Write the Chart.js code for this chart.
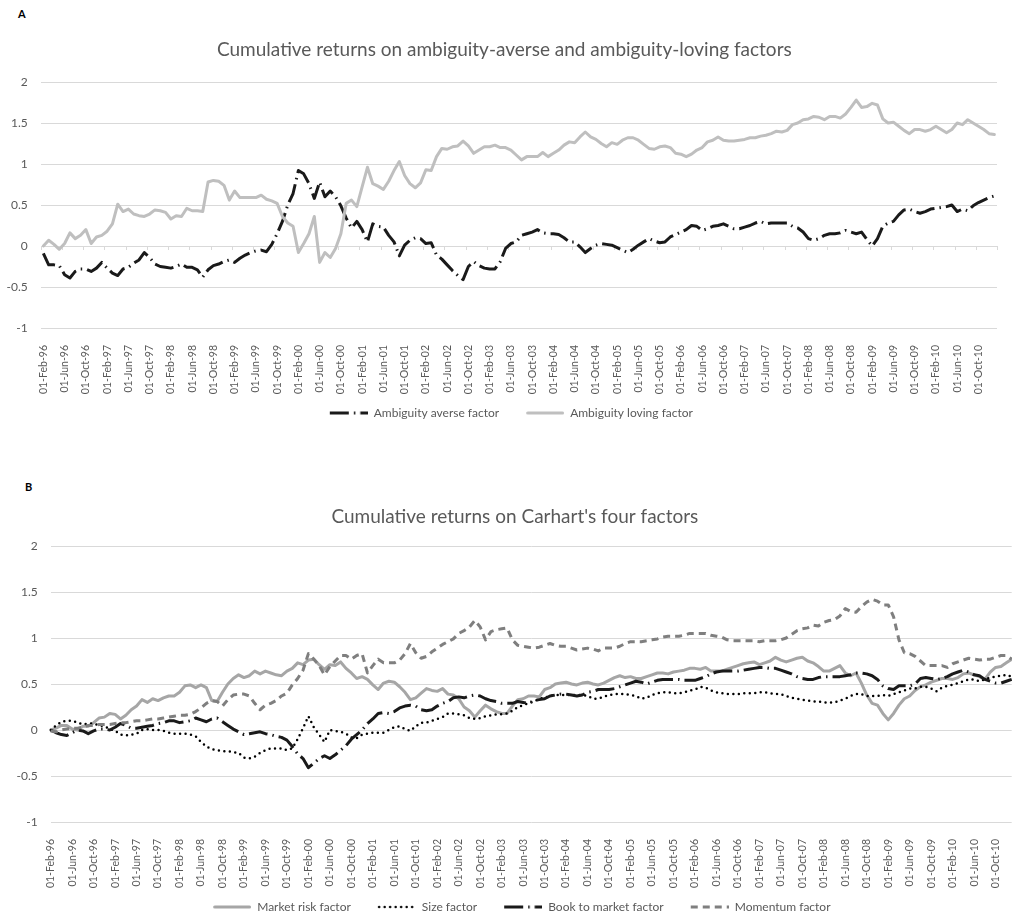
<!DOCTYPE html>
<html>
<head>
<meta charset="utf-8">
<script src="https://cdn.jsdelivr.net/npm/chart.js@4.4.1/dist/chart.umd.min.js"></script>
<style>
  html, body { margin: 0; padding: 0; background: #ffffff; overflow: hidden; width: 1012px; height: 916px; }
  .panel { position: absolute; left: 0; }
  .tag { position: absolute; font-family: Lato, "Liberation Sans", sans-serif; font-weight: bold; font-size: 11px; color: #000; }
</style>
</head>
<body>
<div class="tag" style="left:18px; top:7px;">A</div>
<div class="panel" style="top:0px; width:1016px; height:429px;"><canvas id="chartA" width="1016" height="429"></canvas></div>
<div class="tag" style="left:25px; top:480px;">B</div>
<div class="panel" style="top:460px; width:1035px; height:463px;"><canvas id="chartB" width="1035" height="463"></canvas></div>
<script>
// ---------- categories (monthly, Feb-96 .. Jan-11) ----------
const monthNames = ['Jan','Feb','Mar','Apr','May','Jun','Jul','Aug','Sep','Oct','Nov','Dec'];
const categories = [];
for (let k = 0; k < 180; k++) {
  const m = (1 + k) % 12;
  const yy = (96 + Math.floor((1 + k) / 12)) % 100;
  categories.push('01-' + monthNames[m] + '-' + String(yy).padStart(2, '0'));
}
const yTickValues = [-1, -0.5, 0, 0.5, 1, 1.5, 2];

// ---------- Panel A series ----------
const ambiguityAverse = [
  -0.09,-0.23,-0.23,-0.24,-0.35,-0.39,-0.31,-0.28,-0.28,-0.31,
  -0.27,-0.20,-0.27,-0.33,-0.36,-0.28,-0.26,-0.21,-0.17,-0.08,
  -0.14,-0.22,-0.25,-0.26,-0.27,-0.25,-0.22,-0.26,-0.26,-0.29,
  -0.38,-0.29,-0.24,-0.22,-0.19,-0.17,-0.20,-0.15,-0.11,-0.08,
  -0.06,-0.05,-0.07,0.02,0.15,0.30,0.50,0.64,0.92,0.88,
  0.76,0.58,0.78,0.60,0.67,0.60,0.49,0.34,0.22,0.30,
  0.20,0.05,0.27,0.24,0.23,0.13,0.05,-0.12,0.01,0.07,
  0.10,0.09,0.03,0.04,-0.11,-0.16,-0.23,-0.30,-0.36,-0.41,
  -0.25,-0.19,-0.24,-0.27,-0.28,-0.28,-0.19,-0.03,0.03,0.05,
  0.13,0.15,0.17,0.20,0.16,0.15,0.15,0.14,0.10,0.05,
  0.05,-0.01,-0.08,-0.03,0.01,0.03,0.02,0.01,-0.02,-0.05,
  -0.08,-0.04,0.01,0.05,0.09,0.06,0.04,0.05,0.11,0.14,
  0.17,0.20,0.25,0.24,0.19,0.21,0.24,0.25,0.27,0.24,
  0.21,0.21,0.23,0.25,0.28,0.30,0.27,0.28,0.28,0.28,
  0.28,0.24,0.22,0.17,0.09,0.07,0.09,0.13,0.15,0.15,
  0.16,0.19,0.17,0.15,0.17,0.08,0.00,0.09,0.24,0.28,
  0.30,0.38,0.44,0.45,0.42,0.40,0.42,0.45,0.46,0.47,
  0.48,0.50,0.42,0.45,0.43,0.49,0.53,0.56,0.59,0.61
];
const ambiguityLoving = [
  0.00,0.07,0.02,-0.04,0.03,0.16,0.09,0.13,0.20,0.03,
  0.11,0.13,0.18,0.27,0.51,0.42,0.45,0.39,0.37,0.36,
  0.39,0.44,0.43,0.41,0.33,0.37,0.36,0.46,0.43,0.43,
  0.42,0.78,0.80,0.79,0.74,0.56,0.67,0.59,0.59,0.59,
  0.59,0.62,0.57,0.55,0.52,0.36,0.28,0.24,-0.08,0.03,
  0.15,0.36,-0.20,-0.08,-0.14,-0.03,0.15,0.52,0.56,0.48,
  0.72,0.96,0.76,0.73,0.69,0.79,0.92,1.03,0.86,0.76,
  0.71,0.77,0.93,0.92,1.09,1.19,1.18,1.21,1.22,1.28,
  1.22,1.13,1.17,1.21,1.21,1.23,1.20,1.20,1.17,1.11,
  1.05,1.09,1.09,1.09,1.14,1.09,1.13,1.17,1.23,1.27,
  1.26,1.33,1.39,1.33,1.30,1.25,1.21,1.26,1.24,1.29,
  1.32,1.32,1.29,1.24,1.19,1.18,1.21,1.22,1.20,1.13,
  1.12,1.09,1.12,1.17,1.20,1.27,1.29,1.33,1.29,1.28,
  1.28,1.29,1.30,1.32,1.32,1.34,1.35,1.37,1.40,1.39,
  1.41,1.48,1.50,1.54,1.55,1.58,1.57,1.54,1.58,1.58,
  1.56,1.61,1.69,1.78,1.69,1.70,1.74,1.72,1.55,1.50,
  1.51,1.46,1.41,1.37,1.42,1.42,1.40,1.42,1.46,1.42,
  1.38,1.42,1.50,1.48,1.54,1.50,1.46,1.42,1.37,1.36
];

// ---------- Panel B series ----------
const marketRisk = [
  0.00,0.02,0.05,0.05,0.01,0.00,0.04,0.04,0.08,0.13,
  0.14,0.18,0.17,0.12,0.16,0.22,0.26,0.33,0.30,0.34,
  0.32,0.35,0.37,0.37,0.41,0.48,0.49,0.46,0.49,0.46,
  0.32,0.31,0.41,0.50,0.56,0.60,0.57,0.59,0.64,0.61,
  0.64,0.62,0.60,0.59,0.64,0.67,0.73,0.71,0.76,0.77,
  0.71,0.66,0.71,0.70,0.74,0.67,0.62,0.56,0.58,0.55,
  0.49,0.44,0.51,0.53,0.52,0.47,0.41,0.33,0.35,0.40,
  0.45,0.43,0.42,0.45,0.39,0.38,0.34,0.25,0.21,0.14,
  0.21,0.27,0.23,0.20,0.18,0.18,0.26,0.33,0.34,0.37,
  0.37,0.36,0.44,0.46,0.50,0.51,0.52,0.50,0.49,0.51,
  0.52,0.50,0.49,0.51,0.54,0.57,0.59,0.57,0.58,0.56,
  0.56,0.58,0.60,0.62,0.62,0.61,0.63,0.64,0.65,0.67,
  0.67,0.66,0.68,0.64,0.64,0.64,0.66,0.68,0.70,0.72,
  0.73,0.74,0.71,0.73,0.75,0.79,0.76,0.74,0.76,0.78,
  0.79,0.75,0.73,0.69,0.64,0.64,0.67,0.70,0.62,0.59,
  0.62,0.51,0.38,0.29,0.27,0.18,0.11,0.18,0.27,0.34,
  0.37,0.43,0.47,0.49,0.52,0.54,0.56,0.56,0.55,0.57,
  0.61,0.62,0.60,0.58,0.55,0.63,0.68,0.69,0.73,0.77
];
const sizeFactor = [
  0.00,0.05,0.09,0.10,0.10,0.08,0.06,0.07,0.07,0.05,
  0.04,0.01,-0.01,-0.05,-0.06,-0.05,-0.04,0.00,0.01,0.00,
  0.00,-0.01,-0.03,-0.04,-0.04,-0.04,-0.05,-0.07,-0.13,-0.18,
  -0.21,-0.22,-0.23,-0.23,-0.24,-0.25,-0.30,-0.31,-0.29,-0.25,
  -0.22,-0.20,-0.20,-0.20,-0.22,-0.20,-0.10,0.02,0.15,0.03,
  -0.05,-0.13,0.00,-0.01,-0.02,-0.04,-0.08,-0.09,-0.05,-0.04,
  -0.03,-0.03,-0.03,0.00,0.03,0.04,0.01,-0.01,0.04,0.08,
  0.08,0.10,0.12,0.14,0.18,0.18,0.17,0.16,0.13,0.12,
  0.13,0.15,0.16,0.17,0.17,0.18,0.21,0.25,0.27,0.29,
  0.31,0.34,0.35,0.37,0.38,0.38,0.38,0.38,0.38,0.38,
  0.37,0.34,0.34,0.36,0.38,0.39,0.39,0.39,0.38,0.37,
  0.34,0.35,0.38,0.40,0.41,0.41,0.40,0.40,0.41,0.43,
  0.44,0.47,0.46,0.43,0.41,0.40,0.39,0.39,0.39,0.40,
  0.40,0.40,0.41,0.41,0.40,0.39,0.39,0.37,0.35,0.34,
  0.33,0.32,0.31,0.31,0.30,0.30,0.30,0.32,0.34,0.37,
  0.39,0.39,0.37,0.37,0.37,0.38,0.37,0.39,0.41,0.43,
  0.45,0.45,0.47,0.47,0.45,0.42,0.46,0.48,0.49,0.51,
  0.53,0.55,0.55,0.53,0.55,0.57,0.58,0.59,0.60,0.58
];
const bookToMarket = [
  0.00,-0.03,-0.05,-0.06,-0.03,0.00,-0.01,-0.04,-0.01,0.01,
  0.01,0.00,0.03,0.07,0.05,0.02,0.02,0.03,0.04,0.05,
  0.07,0.08,0.10,0.10,0.08,0.09,0.10,0.13,0.11,0.09,
  0.12,0.13,0.09,0.05,0.01,-0.02,-0.05,-0.04,-0.03,-0.02,
  -0.04,-0.05,-0.07,-0.08,-0.11,-0.18,-0.26,-0.31,-0.41,-0.36,
  -0.31,-0.28,-0.31,-0.27,-0.22,-0.17,-0.10,-0.05,0.00,0.07,
  0.12,0.18,0.19,0.18,0.20,0.24,0.26,0.27,0.26,0.22,
  0.21,0.22,0.26,0.29,0.31,0.35,0.36,0.35,0.37,0.38,
  0.37,0.34,0.32,0.31,0.29,0.29,0.29,0.31,0.30,0.29,
  0.32,0.33,0.34,0.37,0.38,0.39,0.39,0.38,0.37,0.38,
  0.41,0.42,0.44,0.44,0.44,0.45,0.47,0.49,0.51,0.53,
  0.52,0.50,0.52,0.54,0.55,0.55,0.55,0.55,0.54,0.54,
  0.54,0.56,0.58,0.61,0.63,0.64,0.64,0.64,0.64,0.65,
  0.66,0.67,0.68,0.68,0.67,0.67,0.65,0.63,0.61,0.58,
  0.56,0.55,0.55,0.57,0.58,0.58,0.58,0.58,0.59,0.60,
  0.62,0.62,0.61,0.59,0.55,0.48,0.45,0.44,0.48,0.48,
  0.48,0.50,0.56,0.57,0.56,0.55,0.56,0.58,0.61,0.63,
  0.65,0.63,0.60,0.59,0.55,0.53,0.51,0.51,0.53,0.55
];
const momentumFactor = [
  -0.01,-0.02,0.00,0.01,0.02,0.02,0.03,0.05,0.05,0.06,
  0.06,0.06,0.07,0.08,0.08,0.09,0.10,0.10,0.11,0.12,
  0.12,0.13,0.14,0.15,0.16,0.16,0.17,0.20,0.24,0.29,
  0.32,0.31,0.26,0.33,0.38,0.39,0.39,0.37,0.29,0.22,
  0.27,0.29,0.32,0.37,0.40,0.49,0.56,0.65,0.83,0.77,
  0.70,0.60,0.69,0.75,0.81,0.81,0.77,0.81,0.83,0.62,
  0.70,0.77,0.73,0.73,0.73,0.76,0.83,0.94,0.84,0.78,
  0.80,0.85,0.89,0.93,0.96,0.99,1.05,1.08,1.12,1.19,
  1.12,0.98,1.07,1.09,1.10,1.11,0.98,0.92,0.91,0.90,
  0.89,0.90,0.92,0.94,0.92,0.91,0.91,0.89,0.87,0.88,
  0.89,0.88,0.86,0.89,0.89,0.89,0.91,0.94,0.96,0.96,
  0.96,0.97,0.98,0.99,1.01,1.02,1.02,1.02,1.03,1.05,
  1.05,1.05,1.05,1.03,1.02,1.01,0.98,0.97,0.97,0.97,
  0.97,0.97,0.96,0.97,0.97,0.97,0.98,1.00,1.04,1.08,
  1.10,1.11,1.14,1.13,1.17,1.19,1.20,1.24,1.32,1.29,
  1.28,1.34,1.39,1.42,1.40,1.36,1.36,1.23,0.98,0.84,
  0.83,0.80,0.75,0.70,0.70,0.70,0.70,0.68,0.72,0.74,
  0.76,0.78,0.77,0.76,0.77,0.77,0.79,0.81,0.81,0.77
];

// ---------- shared styling ----------
const FONT = 'Lato, "Liberation Sans", sans-serif';
const TEXT = '#595959';
const GRID = '#d9d9d9';
const SAMPLE_W = 52, SAMPLE_LEAD = 14;

// legend sample (line drawn with the series' own dash pattern)
function sample(color, width, dash, cap) {
  const c = document.createElement('canvas');
  c.width = SAMPLE_W; c.height = 8;
  const g = c.getContext('2d');
  g.strokeStyle = color; g.lineWidth = width; g.lineCap = cap;
  g.setLineDash(dash);
  g.beginPath();
  const start = SAMPLE_LEAD + (cap === 'round' ? width / 2 : 0);
  g.moveTo(start, 4); g.lineTo(SAMPLE_W - (cap === 'round' ? width / 2 : 0), 4);
  g.stroke();
  return c;
}

function xAxis(offset) {
  return {
    offset: offset,
    grid: { display: false },
    border: { display: false },
    ticks: {
      autoSkip: false, minRotation: 90, maxRotation: 90, padding: 9,
      color: TEXT, font: { family: FONT, size: 10.5 },
      callback: function (v, i) { return i % 4 === 0 ? this.getLabelForValue(v) : ''; }
    },
    afterFit: function (s) { s.height = 66; }
  };
}
function yAxis(width, pad) {
  return {
    min: -1, max: 2,
    afterBuildTicks: function (s) { s.ticks = yTickValues.map(v => ({ value: v })); },
    ticks: { padding: pad, color: TEXT, font: { family: FONT, size: 12 }, callback: v => String(v) },
    grid: { color: GRID, lineWidth: 1, drawTicks: false },
    border: { display: false },
    afterFit: function (s) { s.width = width; }
  };
}
// empty spacer on the right so that title and legend are centred like the original
function spacerAxis(width) {
  return {
    position: 'right', display: true, min: 0, max: 1,
    grid: { display: false, drawTicks: false }, border: { display: false },
    ticks: { display: false },
    afterFit: function (s) { s.width = width; }
  };
}
function legendOpts() {
  return {
    position: 'bottom',
    labels: {
      usePointStyle: true, pointStyleWidth: SAMPLE_W,
      color: TEXT, font: { family: FONT, size: 12 }, padding: 13,
      sort: (a, b) => a.datasetIndex - b.datasetIndex
    }
  };
}
function titleOpts(text, top, bottom) {
  return { display: true, text: text, color: TEXT, font: { family: FONT, size: 19, weight: 'normal' }, padding: { top: top, bottom: bottom } };
}
function series(label, data, color, width, dash, cap, order) {
  return {
    label: label, data: data, borderColor: color, backgroundColor: color,
    borderWidth: width, borderDash: dash, borderCapStyle: cap, borderJoinStyle: 'round',
    pointRadius: 0, pointHoverRadius: 0, pointStyle: sample(color, width, dash, cap),
    tension: 0, fill: false, order: order, yAxisID: 'y'
  };
}

// tick marks on the zero line (panel A), every 4 categories at category boundaries
const zeroTicks = {
  id: 'zeroTicks',
  beforeDatasetsDraw(chart) {
    const xs = chart.scales.x, ys = chart.scales.y, ctx = chart.ctx;
    const y0 = ys.getPixelForValue(0);
    const half = (xs.getPixelForValue(1) - xs.getPixelForValue(0)) / 2;
    ctx.save();
    ctx.strokeStyle = GRID; ctx.lineWidth = 1;
    ctx.beginPath();
    for (let i = 0; i <= categories.length; i += 4) {
      const px = Math.round(xs.getPixelForValue(i) - half) + 0.5;
      ctx.moveTo(px, y0); ctx.lineTo(px, y0 + 4);
    }
    ctx.stroke();
    ctx.restore();
  }
};

const base = { responsive: false, animation: false, devicePixelRatio: 1, events: [] };
const LONG_DASH_DOT = [19, 5, 1.5, 5];

new Chart(document.getElementById('chartA'), {
  type: 'line',
  data: {
    labels: categories,
    datasets: [
      series('Ambiguity averse factor', ambiguityAverse, '#1a1a1a', 3, LONG_DASH_DOT, 'butt', 2),
      series('Ambiguity loving factor', ambiguityLoving, '#bfbfbf', 3, [], 'round', 1)
    ]
  },
  options: Object.assign({}, base, {
    layout: { padding: { left: 0, right: 7.3, top: 0, bottom: 0 } },
    plugins: {
      title: titleOpts('Cumulative returns on ambiguity-averse and ambiguity-loving factors', 38.6, 20.6),
      legend: legendOpts(),
      tooltip: { enabled: false }
    },
    scales: { x: xAxis(true), y: yAxis(40.7, 13), yR: spacerAxis(7) }
  }),
  plugins: [zeroTicks]
});

new Chart(document.getElementById('chartB'), {
  type: 'line',
  data: {
    labels: categories,
    datasets: [
      series('Market risk factor', marketRisk, '#a6a6a6', 3, [], 'round', 4),
      series('Size factor', sizeFactor, '#000000', 2.5, [0, 5.5], 'round', 3),
      series('Book to market factor', bookToMarket, '#1a1a1a', 3, LONG_DASH_DOT, 'butt', 2),
      series('Momentum factor', momentumFactor, '#7f7f7f', 3, [7, 5], 'butt', 1)
    ]
  },
  options: Object.assign({}, base, {
    layout: { padding: { left: 0, right: 5.3, top: 0, bottom: 0 } },
    plugins: {
      title: titleOpts("Cumulative returns on Carhart's four factors", 45.6, 17.6),
      legend: legendOpts(),
      tooltip: { enabled: false }
    },
    scales: { x: xAxis(false), y: yAxis(50.7, 13), yR: spacerAxis(18) }
  })
});
</script>
</body>
</html>
